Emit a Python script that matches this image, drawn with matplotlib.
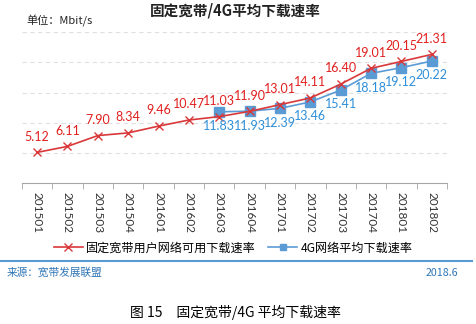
import matplotlib
matplotlib.use("Agg")
import matplotlib.pyplot as plt
from matplotlib.lines import Line2D
import numpy as np

plt.rcParams["font.family"] = ["Noto Sans CJK SC", "DejaVu Sans"]

quarters = ["201501", "201502", "201503", "201504", "201601", "201602", "201603",
            "201604", "201701", "201702", "201703", "201704", "201801", "201802"]
fixed_bb = [5.12, 6.11, 7.90, 8.34, 9.46, 10.47, 11.03, 11.90, 13.01, 14.11,
            16.40, 19.01, 20.15, 21.31]
lte_idx = list(range(6, 14))
lte = [11.83, 11.93, 12.39, 13.46, 15.41, 18.18, 19.12, 20.22]

RED = "#D9383A"
RED_TXT = "#E0201F"
BLUE = "#5B9BD5"
BLUE_TXT = "#2E8FD8"
NUM_FONT = ["Lato", "DejaVu Sans"]

fig = plt.figure(figsize=(4.76, 3.24), dpi=100)
ax = fig.add_axes([0.046, 0.434, 0.893, 0.467])

x = np.arange(len(quarters))
ax.plot(x, fixed_bb, color=RED, lw=1.2, marker="x", ms=5.5, mew=1.0, zorder=3)
ax.plot(lte_idx, lte, color=BLUE, lw=1.2, marker="s", ms=7, zorder=2)

for xi, v in zip(x, fixed_bb):
    ax.annotate(f"{v:.2f}", (xi, v), xytext=(0, 7), textcoords="offset points",
                ha="center", va="bottom", color=RED_TXT, fontsize=9,
                family=NUM_FONT)
for xi, v in zip(lte_idx, lte):
    ax.annotate(f"{v:.2f}", (xi, v), xytext=(0, -6), textcoords="offset points",
                ha="center", va="top", color=BLUE_TXT, fontsize=9,
                family=NUM_FONT)

ax.set_ylim(0, 25)
ax.set_xlim(-0.5, len(quarters) - 0.5)
ax.set_yticks([5, 10, 15, 20, 25])
ax.yaxis.grid(True, ls=(0, (4, 3)), color="#E0E0E0", lw=0.8)
ax.tick_params(axis="y", length=0, labelleft=False)
for s in ["top", "left", "right"]:
    ax.spines[s].set_visible(False)
ax.spines["bottom"].set_color("#A6A6A6")
ax.set_xticks(x)
ax.set_xticklabels(quarters, rotation=-90, fontsize=8.5, color="#333333",
                   family=NUM_FONT)
ax.set_xticks(np.arange(-0.5, len(quarters)), minor=True)
ax.tick_params(axis="x", which="major", length=0, pad=6)
ax.tick_params(axis="x", which="minor", length=4, color="#A6A6A6")

fig.text(0.494, 0.968, "固定宽带/4G平均下载速率", ha="center", va="center",
         fontsize=10.5, fontweight="bold", color="#222222")
fig.text(0.055, 0.935, "单位：Mbit/s", ha="left", va="center", fontsize=8,
         color="#222222")

handles = [Line2D([], [], color=RED, lw=1.2, marker="x", ms=5.5),
           Line2D([], [], color=BLUE, lw=1.2, marker="s", ms=5)]
fig.legend(handles, ["固定宽带用户网络可用下载速率", "4G网络平均下载速率"],
           loc="center", bbox_to_anchor=(0.49, 0.235), ncol=2, frameon=False,
           fontsize=8.7, handlelength=2.4, columnspacing=1.0, handletextpad=0.3)

fig.add_artist(Line2D([0, 0.992], [0.195, 0.195], color=BLUE, lw=1.5,
                      transform=fig.transFigure))
fig.text(0.013, 0.158, "来源：宽带发展联盟", ha="left", va="center", fontsize=7.7,
         color="#2E75B6")
fig.text(0.963, 0.158, "2018.6", ha="right", va="center", fontsize=7.7,
         color="#2E75B6")
fig.text(0.495, 0.037, "图 15　固定宽带/4G 平均下载速率", ha="center", va="center",
         fontsize=10, color="black")

fig.savefig("out.png", dpi=100)
